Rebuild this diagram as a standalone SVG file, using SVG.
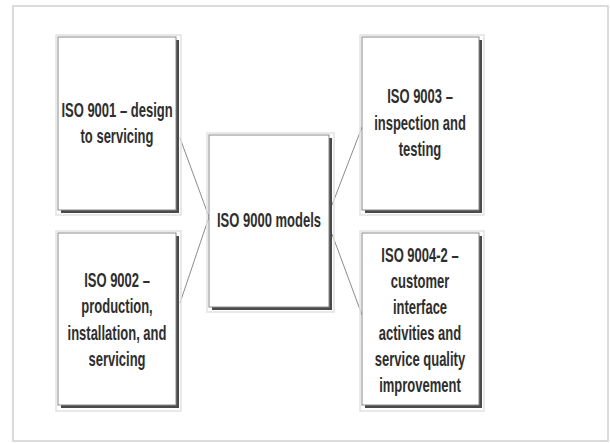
<svg xmlns="http://www.w3.org/2000/svg" width="610" height="443" viewBox="0 0 610 443">
<style>
.frame{fill:#fff;stroke:#d0d0d0;stroke-width:1.5}
.halo{fill:none;stroke:#e2e2e2;stroke-width:1.5}
.shadow{fill:#4a4a4a}
.box{fill:#fff;stroke:#8a8a8a;stroke-width:1}
.lbl{font-family:"Liberation Sans",Arial,sans-serif;font-size:20px;fill:#2e2e2e;text-anchor:middle;font-weight:bold}
.conn{stroke:#8c8c8c;stroke-width:1;fill:none}
</style>
<rect width="610" height="443" fill="#fff"/>
<rect class="frame" x="13" y="6" width="595" height="435"/>
<g id="connectors">
<line class="conn" x1="180" y1="138" x2="209" y2="217"/>
<line class="conn" x1="180" y1="303" x2="209" y2="217"/>
<line class="conn" x1="332" y1="205" x2="362" y2="127"/>
<line class="conn" x1="332" y1="234" x2="362" y2="315"/>
</g>
<g id="n1">
<rect class="halo" x="56" y="35" width="125" height="180"/>
<rect class="shadow" x="61" y="40" width="118" height="173"/>
<rect class="box" x="58" y="37" width="118" height="173"/>
<text class="lbl" transform="translate(117 0) scale(0.65 1)"><tspan x="0" y="117">ISO 9001 – design</tspan><tspan x="0" y="143">to servicing</tspan></text>
</g>
<g id="n2">
<rect class="halo" x="56" y="231" width="125" height="180"/>
<rect class="shadow" x="61" y="236" width="118" height="172"/>
<rect class="box" x="58" y="233" width="118" height="172"/>
<text class="lbl" transform="translate(117 0) scale(0.65 1)"><tspan x="0" y="287">ISO 9002 –</tspan><tspan x="0" y="313">production,</tspan><tspan x="0" y="340">installation, and</tspan><tspan x="0" y="366">servicing</tspan></text>
</g>
<g id="n0">
<rect class="halo" x="207" y="133" width="127" height="179"/>
<rect class="shadow" x="212" y="138" width="120" height="172"/>
<rect class="box" x="209" y="135" width="120" height="172"/>
<text class="lbl" transform="translate(269 0) scale(0.65 1)"><tspan x="0" y="227">ISO 9000 models</tspan></text>
</g>
<g id="n3">
<rect class="halo" x="360" y="35" width="124" height="180"/>
<rect class="shadow" x="365" y="40" width="117" height="173"/>
<rect class="box" x="362" y="37" width="117" height="173"/>
<text class="lbl" transform="translate(420 0) scale(0.65 1)"><tspan x="0" y="103">ISO 9003 –</tspan><tspan x="0" y="130">inspection and</tspan><tspan x="0" y="156">testing</tspan></text>
</g>
<g id="n4">
<rect class="halo" x="360" y="231" width="124" height="180"/>
<rect class="shadow" x="365" y="236" width="117" height="172"/>
<rect class="box" x="362" y="233" width="117" height="172"/>
<text class="lbl" transform="translate(420 0) scale(0.65 1)"><tspan x="0" y="262">ISO 9004-2 –</tspan><tspan x="0" y="288">customer</tspan><tspan x="0" y="314">interface</tspan><tspan x="0" y="340">activities and</tspan><tspan x="0" y="366">service quality</tspan><tspan x="0" y="392">improvement</tspan></text>
</g>
</svg>
